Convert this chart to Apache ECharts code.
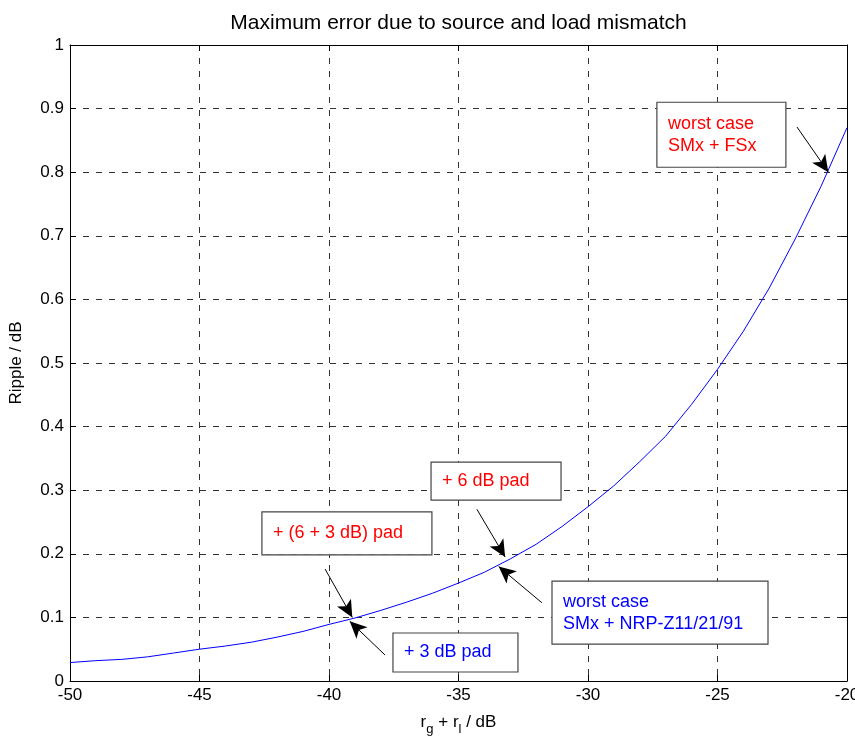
<!DOCTYPE html>
<html><head><meta charset="utf-8">
<script src="https://cdn.jsdelivr.net/npm/echarts@6/dist/echarts.min.js"></script>
<style>html,body{margin:0;padding:0;background:#fff;overflow:hidden}#c{width:855px;height:736px}</style>
</head><body><div id="c"></div>
<script>
var xValues = [-50,-49,-48,-47,-46,-45,-44,-43,-42,-41,-40,-39,-38,-37,-36,-35,-34,-33,-32,-31,-30,-29,-28,-27,-26,-25,-24,-23,-22,-21,-20];
var ripple = [0.029,0.032,0.034,0.038,0.044,0.050,0.055,0.061,0.069,0.078,0.089,0.099,0.111,0.124,0.138,0.154,0.171,0.192,0.215,0.243,0.274,0.307,0.345,0.385,0.435,0.490,0.550,0.618,0.695,0.778,0.870];
// annotations: text, colour, box top-left in data coords, arrow start and tip in data coords
var annLabels = ['worst case\nSMx + FSx', '+ 6 dB pad', 'worst case\nSMx + NRP-Z11/21/91', '+ (6 + 3 dB) pad', '+ 3 dB pad'];
var annColors = ['#ff0000', '#ff0000', '#0000ff', '#ff0000', '#0000ff'];
var annBox = [[-27.34, 0.910], [-36.06, 0.344], [-31.39, 0.157], [-42.59, 0.266], [-37.53, 0.0755]];
var annBoxSize = [[129, 65], [130, 38], [216, 63], [170, 43], [125, 39]];
var arrowFrom = [[-21.93, 0.871], [-34.29, 0.270], [-31.78, 0.123], [-40.15, 0.176], [-37.84, 0.041]];
var arrowTo = [[-20.72, 0.800], [-33.2, 0.195], [-33.45, 0.180], [-39.1, 0.100], [-39.2, 0.094]];
var titleText = 'Maximum error due to source and load mismatch';

var font = 'Liberation Sans, Arial, sans-serif';
var chart = echarts.init(document.getElementById('c'));
var gridLine = {show: true, lineStyle: {color: '#333', type: [6, 7], width: 1}};
var option = {
  animation: false,
  backgroundColor: '#fff',
  grid: {left: 70, right: 8, top: 45, bottom: 55, containLabel: false, outerBoundsMode: 'none'},
  xAxis: [{
    type: 'value', min: -50, max: -20, interval: 5,
    axisLine: {show: true, onZero: false, lineStyle: {color: '#000'}},
    axisTick: {show: true, inside: true, length: 6, lineStyle: {color: '#000'}},
    axisLabel: {color: '#000', fontFamily: font, fontSize: 17, margin: 6},
    splitLine: gridLine,
    name: '{a|r}{s|g}{a| + r}{s|l}{a| / dB}', nameLocation: 'middle', nameGap: 33,
    nameTextStyle: {rich: {
      a: {fontFamily: font, fontSize: 17, color: '#000', verticalAlign: 'top', lineHeight: 22},
      s: {fontFamily: font, fontSize: 13, color: '#000', verticalAlign: 'bottom', lineHeight: 22, padding: [7, 0, 0, 0]}
    }}
  }, {
    type: 'value', position: 'top', min: -50, max: -20, interval: 5,
    axisLine: {show: true, onZero: false, lineStyle: {color: '#000'}},
    axisTick: {show: true, inside: true, length: 6, lineStyle: {color: '#000'}},
    axisLabel: {show: false}, splitLine: {show: false}
  }],
  yAxis: [{
    type: 'value', min: 0, max: 1, interval: 0.1,
    axisLine: {show: true, onZero: false, lineStyle: {color: '#000'}},
    axisTick: {show: true, inside: true, length: 6, lineStyle: {color: '#000'}},
    axisLabel: {color: '#000', fontFamily: font, fontSize: 17, margin: 6,
      formatter: function (v) { return String(Math.round(v * 10) / 10); }},
    splitLine: gridLine,
    name: 'Ripple / dB', nameLocation: 'middle', nameGap: 45, nameRotate: 90,
    nameTextStyle: {fontFamily: font, fontSize: 17, color: '#000'}
  }, {
    type: 'value', position: 'right', min: 0, max: 1, interval: 0.1,
    axisLine: {show: true, onZero: false, lineStyle: {color: '#000'}},
    axisTick: {show: true, inside: true, length: 6, lineStyle: {color: '#000'}},
    axisLabel: {show: false}, splitLine: {show: false}
  }],
  series: [{
    type: 'line', showSymbol: false, symbol: 'none',
    data: xValues.map(function (x, i) { return [x, ripple[i]]; }),
    lineStyle: {color: '#0000ff', width: 1},
    z: 3,
    markLine: {
      silent: true, symbol: ['none', 'arrow'], symbolSize: [12, 17],
      lineStyle: {color: '#000', width: 1, type: 'solid'},
      label: {show: false},
      data: arrowFrom.map(function (f, i) {
        return [{coord: f}, {coord: arrowTo[i]}];
      })
    }
  }]
};
chart.setOption(option);

var graphics = [];
var tl = chart.convertToPixel({gridIndex: 0}, [-50, 1]);
var tr = chart.convertToPixel({gridIndex: 0}, [-20, 1]);
graphics.push({
  type: 'text', x: (tl[0] + tr[0]) / 2, y: tl[1] - 22, z: 11,
  style: {text: titleText, fill: '#000', font: '21px ' + font,
    textAlign: 'center', align: 'center', textVerticalAlign: 'middle', verticalAlign: 'middle'}
});
for (var i = 0; i < annLabels.length; i++) {
  var p = chart.convertToPixel({gridIndex: 0}, annBox[i]);
  var w = annBoxSize[i][0], h = annBoxSize[i][1];
  graphics.push({
    type: 'rect', x: p[0], y: p[1], z: 10,
    shape: {x: 0, y: 0, width: w, height: h},
    style: {fill: '#fff', stroke: '#444', lineWidth: 1.2}
  });
  graphics.push({
    type: 'text', x: p[0] + 11, y: p[1] + h / 2, z: 11,
    style: {text: annLabels[i], fill: annColors[i], font: '18px ' + font,
      textVerticalAlign: 'middle', verticalAlign: 'middle', lineHeight: 22}
  });
}
chart.setOption({graphic: graphics});
</script></body></html>
